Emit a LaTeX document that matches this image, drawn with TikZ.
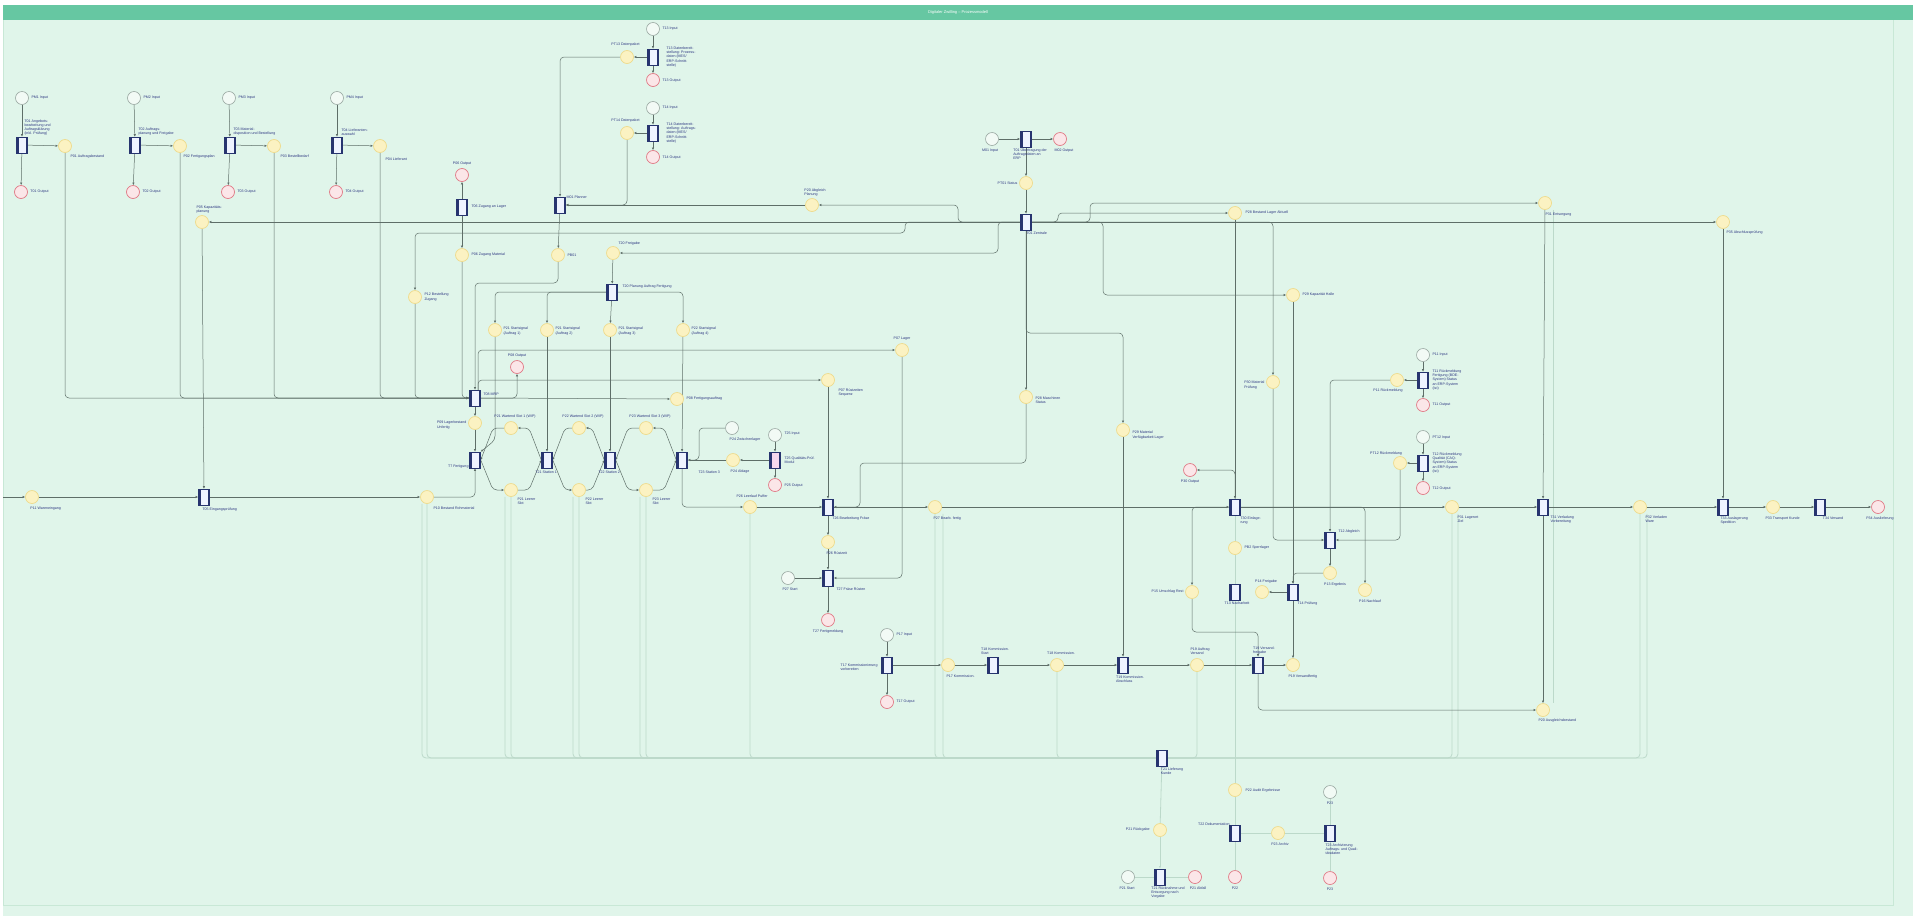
\documentclass[tikz,border=0pt]{standalone}
\usepackage{fontspec}
\setmainfont{Liberation Sans}
\usetikzlibrary{arrows.meta}
\definecolor{bgc}{HTML}{E0F5EA}
\definecolor{barc}{HTML}{66C7A2}
\definecolor{framec}{HTML}{C8E8D6}
\definecolor{wc}{HTML}{5E6E68}
\definecolor{fc}{HTML}{BCD9CA}
\definecolor{trb}{HTML}{27346F}
\definecolor{trf}{HTML}{EEF3FF}
\definecolor{plf}{HTML}{FBF2C2}
\definecolor{plb}{HTML}{EEDB8C}
\definecolor{inf}{HTML}{F2FAF5}
\definecolor{inb}{HTML}{9AA8A2}
\definecolor{ouf}{HTML}{FBE6E8}
\definecolor{oub}{HTML}{E07A86}
\definecolor{lblc}{HTML}{2B3580}
\definecolor{pinkf}{HTML}{F6D8EE}
\newcommand\lblsize{\fontsize{3.6}{4.2}\selectfont}
\pgfdeclarelayer{back}
\pgfdeclarelayer{edges}
\pgfsetlayers{back,edges,main}
\begin{document}
\begin{tikzpicture}[x=1pt,y=-1pt,
 tbox/.style={rectangle,draw=trb,fill=trf,line width=0.45pt,minimum width=11pt,minimum height=16pt,inner sep=0pt,
   path picture={\fill[trb] (path picture bounding box.north west) rectangle ([xshift=2pt]path picture bounding box.south west);
                 \fill[trb] (path picture bounding box.north east) rectangle ([xshift=-2pt]path picture bounding box.south east);}},
 tboxp/.style={tbox,fill=pinkf},
 place/.style={circle,draw=plb,fill=plf,line width=0.7pt,minimum size=13pt,inner sep=0pt},
 inpl/.style={circle,draw=inb,fill=inf,line width=0.6pt,minimum size=13pt,inner sep=0pt},
 outpl/.style={circle,draw=oub,fill=ouf,line width=0.7pt,minimum size=13pt,inner sep=0pt},
 lbl/.style={font=\lblsize,text=lblc,inner sep=0.3pt,align=left},
 wire/.style={draw=wc,line width=0.5pt,rounded corners=4pt},
 wirea/.style={wire,-{Latex[length=2.6pt,width=2.4pt]}},
 faint/.style={draw=fc,line width=0.8pt,rounded corners=4pt},
]
\useasboundingbox (0,0) rectangle (1913,916);
\begin{pgfonlayer}{back}
\fill[white] (0,0) rectangle (1913,916);
\fill[bgc] (3,5) rectangle (1913,916);
\draw[framec,line width=0.8pt] (3,20) -- (3,905) -- (1893,905) -- (1893,20);
\fill[barc] (3,5) rectangle (1913,20);
\end{pgfonlayer}
\node[font=\fontsize{4}{5}\selectfont,text=white] (title) at (958,12.5) {Digitaler Zwilling -- Prozessmodell};

% ---------- top-left modules ----------
\node[inpl] (m1i) at (22,98) {};
\node[lbl,anchor=west] (m1il) at (31,98) {PM1 Input};
\node[tbox] (m1t) at (22,145) {};
\node[lbl,anchor=south west] (m1tl) at (24,136) {T01 Angebots-\\bearbeitung und\\Auftragsklärung\\(inkl. Prüfung)};
\node[place] (m1p) at (65,146) {};
\node[lbl,anchor=north west] (m1pl) at (70,154) {P01 Auftragsbestand};
\node[outpl] (m1o) at (21,192) {};
\node[lbl,anchor=west] (m1ol) at (30,192) {T01 Output};

\node[inpl] (m2i) at (134,98) {};
\node[lbl,anchor=west] (m2il) at (143,98) {PM2 Input};
\node[tbox] (m2t) at (135,145) {};
\node[lbl,anchor=south west] (m2tl) at (138,136) {T02 Auftrags-\\planung und Freigabe};
\node[place] (m2p) at (180,146) {};
\node[lbl,anchor=north west] (m2pl) at (183,154) {P02 Fertigungsplan};
\node[outpl] (m2o) at (133,192) {};
\node[lbl,anchor=west] (m2ol) at (142,192) {T02 Output};

\node[inpl] (m3i) at (229,98) {};
\node[lbl,anchor=west] (m3il) at (238,98) {PM3 Input};
\node[tbox] (m3t) at (230,145) {};
\node[lbl,anchor=south west] (m3tl) at (233,136) {T03 Material-\\disposition und Bestellung};
\node[place] (m3p) at (274,146) {};
\node[lbl,anchor=north west] (m3pl) at (280,154) {P03 Bestellbedarf};
\node[outpl] (m3o) at (228,192) {};
\node[lbl,anchor=west] (m3ol) at (237,192) {T03 Output};

\node[inpl] (m4i) at (337,98) {};
\node[lbl,anchor=west] (m4il) at (346,98) {PM4 Input};
\node[tbox] (m4t) at (337,145) {};
\node[lbl,anchor=south west] (m4tl) at (341,136) {T04 Lieferanten-\\auswahl};
\node[place] (m4p) at (380,146) {};
\node[lbl,anchor=north west] (m4pl) at (385,157) {P04 Lieferant};
\node[outpl] (m4o) at (336,192) {};
\node[lbl,anchor=west] (m4ol) at (345,192) {T04 Output};

% ---------- left column ----------
\node[place] (pa) at (202,222) {};
\node[lbl,anchor=south west] (pal) at (196,214) {P05 Kapazitäts-\\planung};
\node[tbox] (tb) at (204,497) {};
\node[lbl,anchor=north west] (tbl) at (202,507) {T05 Eingangsprüfung};
\coordinate (lft) at (3,497);
\node[place] (pl) at (32,497) {};
\node[lbl,anchor=north west] (pll) at (30,506) {P11 Wareneingang};
\node[place] (pc) at (427,497) {};
\node[lbl,anchor=north west] (pcl) at (433,506) {P10 Bestand Rohmaterial};

\node[outpl] (oa) at (462,175) {};
\node[lbl,anchor=south] (oal) at (462,166) {P06 Output};
\node[tbox] (tc) at (462,207) {};
\node[lbl,anchor=west] (tcl) at (471,207) {T06 Zugang an Lager};
\node[place] (pd) at (462,255) {};
\node[lbl,anchor=west] (pdl) at (471,255) {P06 Zugang Material};
\node[place] (pe) at (415,297) {};
\node[lbl,anchor=west] (pel) at (424,297) {P12 Bestellung\\Zugang};
\node[tbox] (tm) at (475,398) {};
\node[lbl,anchor=south west] (tml) at (483,396) {T08 MRP};
\node[place] (pf) at (475,423) {};
\node[lbl,anchor=east] (pfl) at (467,425) {P09 Lagerbestand\\Unfertig};
\node[tbox] (tn) at (475,460) {};
\node[lbl,anchor=north east] (tnl) at (469,464) {T7 Fertigung};

\node[outpl] (ob) at (517,367) {};
\node[lbl,anchor=south] (obl) at (517,358) {P08 Output};
\node[place] (pob) at (677,399) {};
\node[lbl,anchor=west] (pobl) at (686,399) {P08 Fertigungsauftrag};
\node[place] (pg) at (902,350) {};
\node[lbl,anchor=south] (pgl) at (902,341) {P07 Lager};
\node[place] (pr) at (828,380) {};
\node[lbl,anchor=north west] (prl) at (838,388) {P07 Rüstzeiten\\Sequenz};

% ---------- top middle modules ----------
\node[tbox] (tx1) at (560,205) {};
\node[lbl,anchor=south west] (tx1l) at (566,199) {M01 Planner};
\node[inpl] (k1i) at (653,29) {};
\node[lbl,anchor=west] (k1il) at (662,29) {T13 Input};
\node[tbox] (k1t) at (653,57) {};
\node[lbl,anchor=west] (k1tl) at (666,57) {T13 Datenbereit-\\stellung: Prozess-\\daten (MES/\\ERP-Schnitt-\\stelle)};
\node[place] (k1p) at (627,57) {};
\node[lbl,anchor=south east] (k1pl) at (640,47) {PT13 Datenpaket};
\node[outpl] (k1o) at (653,80) {};
\node[lbl,anchor=west] (k1ol) at (662,81) {T13 Output};

\node[inpl] (k2i) at (653,108) {};
\node[lbl,anchor=west] (k2il) at (662,108) {T14 Input};
\node[tbox] (k2t) at (653,133) {};
\node[lbl,anchor=west] (k2tl) at (666,133) {T14 Datenbereit-\\stellung: Auftrags-\\daten (MES/\\ERP-Schnitt-\\stelle)};
\node[place] (k2p) at (627,133) {};
\node[lbl,anchor=south east] (k2pl) at (640,123) {PT14 Datenpaket};
\node[outpl] (k2o) at (653,157) {};
\node[lbl,anchor=west] (k2ol) at (662,158) {T14 Output};

\node[place] (pab) at (812,205) {};
\node[lbl,anchor=south] (pabl) at (815,197) {P20 Abgleich\\Planung};
\node[place] (pp) at (558,255) {};
\node[lbl,anchor=west] (ppl) at (567,255) {PB01};
\node[place] (pfr) at (613,253) {};
\node[lbl,anchor=south west] (pfrl) at (618,246) {T20 Freigabe};
\node[tbox] (tr) at (612,292) {};
\node[lbl,anchor=west] (trl) at (622,287) {T20 Planung Auftrag Fertigung};

% ---------- waiting places + hexagons ----------
\node[place] (pw1) at (495,330) {};
\node[lbl,anchor=west] (pw1l) at (503,331) {P21 Startsignal\\(Auftrag 1)};
\node[place] (pw2) at (547,330) {};
\node[lbl,anchor=west] (pw2l) at (555,331) {P21 Startsignal\\(Auftrag 2)};
\node[place] (pw3) at (610,330) {};
\node[lbl,anchor=west] (pw3l) at (618,331) {P21 Startsignal\\(Auftrag 3)};
\node[place] (pw4) at (683,330) {};
\node[lbl,anchor=west] (pw4l) at (691,331) {P22 Startsignal\\(Auftrag 4)};

\node[tbox] (th2) at (547,460) {};
\node[lbl,anchor=north west] (th2l) at (535,470) {T21 Station 1};
\node[tbox] (th3) at (610,460) {};
\node[lbl,anchor=north west] (th3l) at (598,470) {T22 Station 2};
\node[tbox] (th4) at (682,460) {};
\node[lbl,anchor=north west] (th4l) at (698,470) {T23 Station 3};

\node[place] (ht1) at (511,428) {};
\node[lbl,anchor=south] (ht1l) at (515,419) {P21 Wartend Slot 1 (WIP)};
\node[place] (ht2) at (579,428) {};
\node[lbl,anchor=south] (ht2l) at (583,419) {P22 Wartend Slot 2 (WIP)};
\node[place] (ht3) at (646,428) {};
\node[lbl,anchor=south] (ht3l) at (650,419) {P23 Wartend Slot 3 (WIP)};
\node[place] (hb1) at (511,490) {};
\node[lbl,anchor=north west] (hb1l) at (517,497) {P21 Leerer\\Slot};
\node[place] (hb2) at (579,490) {};
\node[lbl,anchor=north west] (hb2l) at (585,497) {P22 Leerer\\Slot};
\node[place] (hb3) at (646,490) {};
\node[lbl,anchor=north west] (hb3l) at (652,497) {P23 Leerer\\Slot};

\node[inpl] (ic) at (732,428) {};
\node[lbl,anchor=north] (icl) at (745,437) {P24 Zwischenlager};
\node[place] (px) at (733,460) {};
\node[lbl,anchor=north] (pxl) at (740,469) {P24 Ablage};
\node[inpl] (i5) at (775,435) {};
\node[lbl,anchor=west] (i5l) at (784,434) {T25 Input};
\node[tboxp] (t5) at (775,460) {};
\node[lbl,anchor=west] (t5l) at (784,460) {T25 Qualitäts-Prüf.\\Modul};
\node[outpl] (o5) at (775,485) {};
\node[lbl,anchor=west] (o5l) at (784,486) {P25 Output};

\node[place] (py) at (750,507) {};
\node[lbl,anchor=south] (pyl) at (752,498) {P26 Leerlauf Puffer};
\node[tbox] (ts) at (828,507) {};
\node[lbl,anchor=north west] (tsl) at (832,516) {T26 Bearbeitung Fräse};
\node[place] (pz) at (935,507) {};
\node[lbl,anchor=north west] (pzl) at (933,516) {P27 Bearb. fertig};
\node[place] (pv) at (828,542) {};
\node[lbl,anchor=north west] (pvl) at (826,551) {P26 Rüstzeit};
\node[tbox] (tv) at (828,578) {};
\node[lbl,anchor=north west] (tvl) at (836,587) {T27 Fräse Rüsten};
\node[inpl] (iv) at (788,578) {};
\node[lbl,anchor=north] (ivl) at (790,587) {P27 Start};
\node[outpl] (ov) at (828,620) {};
\node[lbl,anchor=north] (ovl) at (828,629) {T27 Fertigmeldung};

% ---------- central ----------
\node[inpl] (it) at (992,139) {};
\node[lbl,anchor=north] (itl) at (990,148) {M01 Input};
\node[tbox] (tt) at (1026,139) {};
\node[lbl,anchor=north] (ttl) at (1030,148) {T01 Übertragung der\\Auftragsdaten an\\ERP};
\node[outpl] (ot) at (1060,139) {};
\node[lbl,anchor=north west] (otl) at (1054,148) {M02 Output};
\node[place] (pt) at (1026,183) {};
\node[lbl,anchor=east] (ptl) at (1018,183) {PT01 Status};
\node[tbox] (tq) at (1026,222) {};
\node[lbl,anchor=north west] (tql) at (1026,231) {T01 Zentrale};
\node[place] (pst) at (1026,397) {};
\node[lbl,anchor=west] (pstl) at (1035,400) {P28 Maschinen\\Status};
\node[place] (pq) at (1123,430) {};
\node[lbl,anchor=west] (pql) at (1132,435) {P29 Material\\Verfügbarkeit Lager};

\node[place] (pu) at (1235,213) {};
\node[lbl,anchor=west] (pul) at (1245,213) {P28 Bestand Lager Aktuell};
\node[place] (pent) at (1545,203) {};
\node[lbl,anchor=north west] (pentl) at (1545,212) {P31 Entsorgung};
\node[place] (pkap) at (1293,295) {};
\node[lbl,anchor=west] (pkapl) at (1302,295) {P29 Kapazität Halle};
\node[place] (pend) at (1723,222) {};
\node[lbl,anchor=north west] (pendl) at (1726,230) {P35 Abschlussprüfung};
\node[place] (pmat) at (1273,382) {};
\node[lbl,anchor=east] (pmatl) at (1265,385) {P30 Material\\Prüfung};

\node[inpl] (r1i) at (1423,355) {};
\node[lbl,anchor=west] (r1il) at (1432,355) {P11 Input};
\node[tbox] (r1t) at (1423,380) {};
\node[lbl,anchor=west] (r1tl) at (1432,380) {T11 Rückmeldung\\Fertigung (BDE-\\System) Status\\an ERP-System\\(Ist)};
\node[outpl] (r1o) at (1423,405) {};
\node[lbl,anchor=west] (r1ol) at (1432,405) {T11 Output};
\node[place] (r1p) at (1397,380) {};
\node[lbl,anchor=north] (r1pl) at (1388,388) {P11 Rückmeldung};

\node[inpl] (r2i) at (1423,437) {};
\node[lbl,anchor=west] (r2il) at (1432,438) {PT12 Input};
\node[tbox] (r2t) at (1423,463) {};
\node[lbl,anchor=west] (r2tl) at (1432,463) {T12 Rückmeldung\\Qualität (CAQ-\\System) Status\\an ERP-System\\(Ist)};
\node[outpl] (r2o) at (1423,488) {};
\node[lbl,anchor=west] (r2ol) at (1432,489) {T12 Output};
\node[place] (r2p) at (1400,463) {};
\node[lbl,anchor=south] (r2pl) at (1386,456) {PT12 Rückmeldung};

\node[tbox] (tab) at (1330,540) {};
\node[lbl,anchor=south west] (tabl) at (1338,534) {T12 Abgleich};
\node[place] (perg) at (1330,573) {};
\node[lbl,anchor=north] (pergl) at (1335,582) {P13 Ergebnis};
\node[tbox] (tpr) at (1293,592) {};
\node[lbl,anchor=north west] (tprl) at (1297,601) {T14 Prüfung};
\node[place] (pres) at (1262,592) {};
\node[lbl,anchor=south] (presl) at (1266,584) {P14 Freigabe};
\node[tbox] (tnach) at (1235,592) {};
\node[lbl,anchor=north] (tnachl) at (1237,601) {T13 Nacharbeit};
\node[place] (psp) at (1235,548) {};
\node[lbl,anchor=west] (pspl) at (1244,548) {PB2 Sperrlager};

\node[tbox] (tu) at (1235,507) {};
\node[lbl,anchor=north west] (tul) at (1240,516) {T30 Einlage-\\rung};
\node[outpl] (ou) at (1190,470) {};
\node[lbl,anchor=north] (oul) at (1190,479) {P30 Output};
\node[place] (pum) at (1192,592) {};
\node[lbl,anchor=east] (puml) at (1184,592) {P15 Umschlag Rest};
\node[place] (pnl) at (1365,590) {};
\node[lbl,anchor=north] (pnll) at (1370,599) {P16 Nachlauf};

% ---------- right main row ----------
\node[place] (pwz) at (1452,507) {};
\node[lbl,anchor=north west] (pwzl) at (1457,515) {P31 Lagerort\\Ziel};
\node[tbox] (tvl2) at (1543,507) {};
\node[lbl,anchor=north west] (tvl2l) at (1550,515) {T31 Verladung\\Vorbereitung};
\node[place] (pvw) at (1640,507) {};
\node[lbl,anchor=north west] (pvwl) at (1645,515) {P32 Verladen\\Ware};
\node[tbox] (tab2) at (1723,507) {};
\node[lbl,anchor=north west] (tab2l) at (1720,516) {T33 Auslagerung\\Spedition};
\node[place] (ptk) at (1773,507) {};
\node[lbl,anchor=north west] (ptkl) at (1765,516) {P33 Transport Kunde};
\node[tbox] (tvs) at (1820,507) {};
\node[lbl,anchor=north] (tvsl) at (1833,516) {T34 Versand};
\node[outpl] (oaus) at (1878,507) {};
\node[lbl,anchor=north] (oausl) at (1880,516) {P34 Auslieferung};

% ---------- lower row ----------
\node[inpl] (il) at (887,635) {};
\node[lbl,anchor=west] (ill) at (896,635) {P17 Input};
\node[tbox] (tl) at (887,665) {};
\node[lbl,anchor=east] (tll) at (878,667) {T17 Kommissionierung\\vorbereiten};
\node[outpl] (ol) at (887,702) {};
\node[lbl,anchor=west] (oll) at (896,702) {T17 Output};
\node[place] (pl1) at (948,665) {};
\node[lbl,anchor=north west] (pl1l) at (946,674) {P17 Kommission.};
\node[tbox] (tl1) at (993,665) {};
\node[lbl,anchor=south] (tl1l) at (995,655) {T18 Kommission.\\Start};
\node[place] (pl2) at (1057,665) {};
\node[lbl,anchor=south] (pl2l) at (1061,655) {T18 Kommission.};
\node[tbox] (tl2) at (1123,665) {};
\node[lbl,anchor=north] (tl2l) at (1130,675) {T19 Kommission.\\Abschluss};
\node[place] (pl3) at (1197,665) {};
\node[lbl,anchor=south] (pl3l) at (1200,655) {P19 Auftrag\\Versand};
\node[tbox] (tl3) at (1258,665) {};
\node[lbl,anchor=south] (tl3l) at (1264,655) {T19 Versand-\\freigabe};
\node[place] (pl4) at (1293,665) {};
\node[lbl,anchor=north west] (pl4l) at (1288,674) {P19 Versandfertig};
\node[place] (pau) at (1543,710) {};
\node[lbl,anchor=north west] (paul) at (1538,718) {P20 Ausgleichsbestand};

% ---------- bottom ----------
\node[tbox] (tbus) at (1162,758) {};
\node[lbl,anchor=north] (tbusl) at (1172,767) {T21 Lieferung\\Kunde};
\node[place] (pbr) at (1160,830) {};
\node[lbl,anchor=east] (pbrl) at (1150,830) {P21 Rückgabe};
\node[tbox] (tbr) at (1160,877) {};
\node[lbl,anchor=north] (tbrl) at (1168,886) {T21 Rücknahme und\\Entsorgung nach\\Vorgabe};
\node[inpl] (ibr) at (1128,877) {};
\node[lbl,anchor=north] (ibrl) at (1127,886) {P21 Start};
\node[outpl] (obr) at (1195,877) {};
\node[lbl,anchor=north] (obrl) at (1198,886) {P21 Abfall};

\node[place] (paud) at (1235,790) {};
\node[lbl,anchor=west] (paudl) at (1245,791) {P22 Audit Ergebnisse};
\node[tbox] (tdok) at (1235,833) {};
\node[lbl,anchor=south east] (tdokl) at (1230,826) {T22 Dokumentation};
\node[outpl] (odok) at (1235,877) {};
\node[lbl,anchor=north] (odokl) at (1235,886) {P22};
\node[place] (parc) at (1278,833) {};
\node[lbl,anchor=north] (parcl) at (1280,842) {P23 Archiv};
\node[tbox] (tarc) at (1330,833) {};
\node[lbl,anchor=north west] (tarcl) at (1325,843) {T23 Archivierung\\Auftrags- und Quali-\\tätsdaten};
\node[inpl] (iarc) at (1330,792) {};
\node[lbl,anchor=north] (iarcl) at (1330,801) {P23};
\node[outpl] (oarc) at (1330,878) {};
\node[lbl,anchor=north] (oarcl) at (1330,887) {P23};

% ================= edges =================
\begin{pgfonlayer}{edges}
% faint bus
\foreach \s in {pc,hb1,hb2,hb3,py,pz,pl2} {\draw[faint] (\s) |- (tbus.west);}
\draw[faint] ([xshift=-5pt]pc.south) |- (tbus.west);
\draw[faint] ([xshift=-6pt]hb1.south) |- (tbus.west);
\draw[faint] ([xshift=-6pt]hb2.south) |- (tbus.west);
\draw[faint] ([xshift=-6pt]hb3.south) |- (tbus.west);
\draw[faint] ([xshift=8pt]pz.south) |- (tbus.west);
\foreach \s in {pl3,pwz,pvw} {\draw[faint] (\s) |- (tbus.east);}
\draw[faint] ([xshift=6pt]pwz.south) |- (tbus.east);
\draw[faint] ([xshift=7pt]pvw.south) |- (tbus.east);
\draw[faint] ([xshift=8pt]pent.south) -- ([xshift=8pt]pent.south |- pau.north);
\draw[faint] (tbus) -- (pbr);
\draw[faint,-{Latex[length=2.6pt]}] (pbr) -- (tbr);
\draw[faint] (ibr) -- (tbr);
\draw[faint] (tbr) -- (obr);
\draw[faint] (tu) -- (psp);
\draw[faint] (psp) -- (tnach);
\draw[faint] (tnach) -- (paud);
\draw[faint] (paud) -- (tdok);
\draw[faint] (tdok) -- (odok);
\draw[faint] (tdok) -- (parc);
\draw[faint] (parc) -- (tarc);
\draw[faint] (iarc) -- (tarc);
\draw[faint] (tarc) -- (oarc);

% top-left modules
\foreach \m in {m1,m2,m3,m4} {
  \draw[wirea] (\m i) -- (\m t);
  \draw[wirea] (\m t) -- (\m p);
  \draw[wirea] (\m t) -- (\m o);
  \draw[wirea] (\m p) |- (tm.west);
}
\draw[wirea] (pe) |- (tm.west);
\draw[wirea] (pd) |- (tm.west);
\draw[wirea] (tc) -- (oa);
\draw[wirea] (tc) -- (pd);
\draw[wirea] (tm) -- (pf);
\draw[wirea] (pf) -- (tn);
\draw[wirea] (pa) -- (tb);
\draw[wirea] (lft) -- (pl);
\draw[wirea] (pl) -- (tb);
\draw[wirea] (tb) -- (pc);
\draw[wirea] (pc) -| (tn.south);
\draw[wirea] (tm.east) -- (pob);
\draw[wirea] (tm.east) -| (ob);
\draw[wirea] ([xshift=3pt]tm.north) |- (pg);
\draw[wirea] ([xshift=3pt]tm.north) |- (pr);

% middle top modules
\draw[wirea] (k1i) -- (k1t);
\draw[wirea] (k1t) -- (k1o);
\draw[wirea] (k1t) -- (k1p);
\draw[wirea] (k1p) -| (tx1.north);
\draw[wirea] (k2i) -- (k2t);
\draw[wirea] (k2t) -- (k2o);
\draw[wirea] (k2t) -- (k2p);
\draw[wirea] (k2p) |- (tx1.east);
\draw[wirea] (pab) -- (tx1.east);
\draw[wirea] (tx1) -- (pp);
\draw[wirea] (pp) -- (558,283) -| (tm.north);
\draw[wirea] (pfr) -- (tr);
\draw[wirea] (tr.west) -| (pw1);
\draw[wirea] (tr.west) -| (pw2);
\draw[wirea] (tr) -- (pw3);
\draw[wirea] (tr.east) -| (pw4);
\draw[wirea] (pw2) -- (th2);
\draw[wirea] (pw3) -- (th3);
\draw[wirea] (pw4) -- (th4);
\draw[wirea] (pw1) -- (495,440) -- (tn.north east);

% hexagons
\draw[wirea] (th2.west) -- (529,428) -- (ht1);
\draw[wirea] (ht1) -- (493,428) -- (tn.east);
\draw[wirea] (tn.east) -- (493,490) -- (hb1);
\draw[wirea] (hb1) -- (529,490) -- (th2.west);
\draw[wirea] (th3.west) -- (592,428) -- (ht2);
\draw[wirea] (ht2) -- (565,428) -- (th2.east);
\draw[wirea] (th2.east) -- (565,490) -- (hb2);
\draw[wirea] (hb2) -- (592,490) -- (th3.west);
\draw[wirea] (th4.west) -- (664,428) -- (ht3);
\draw[wirea] (ht3) -- (628,428) -- (th3.east);
\draw[wirea] (th3.east) -- (628,490) -- (hb3);
\draw[wirea] (hb3) -- (664,490) -- (th4.west);

% right of station 3
\draw[wire] (ic) -| (699,460) -- (th4.east);
\draw[wirea] (i5) -- (t5);
\draw[wirea] (t5) -- (o5);
\draw[wirea] (t5) -- (px);
\draw[wirea] (px) -- (th4.east);
\draw[wirea] (th4.south) |- (py);
\draw[wirea] (py) -- (ts);
\draw[wirea] (pr) -- (ts);
\draw[wirea] (ts) -- (pz);
\draw[wirea] (ts) -- (pv);
\draw[wirea] (pv) -- (tv);
\draw[wirea] (iv) -- (tv);
\draw[wirea] (tv) -- (ov);
\draw[wirea] (pg) |- (tv.east);
\draw[wirea] (pz) -- (tu);

% central transition
\draw[wirea] (it) -- (tt);
\draw[wirea] (tt) -- (ot);
\draw[wirea] (tt) -- (pt);
\draw[wirea] (pt) -- (tq);
\draw[wirea] (tq.west) -- (pa);
\draw[wirea] (tq.west) -- (958,222) |- (pab);
\draw[wirea] (tq.west) -- (998,222) |- (pfr);
\draw[wirea] (tq.west) -- (905,222) |- (415,233) -- (pe);
\draw[wirea] (tq.east) -- (1058,222) |- (pu);
\draw[wirea] (tq.east) -- (1090,222) |- (pent);
\draw[wirea] (tq.east) -- (1103,222) |- (pkap);
\draw[wirea] (tq.east) -- (1273,222) -- (pmat);
\draw[wirea] (tq.east) -- (pend);
\draw[wirea] (tq) -- (pst);
\draw[wirea] (tq.south) -- (1026,333) -| (pq);
\draw[wirea] (pst) -- (1026,463) -- (860,463) -- (860,507) -- (ts.east);
\draw[wirea] (pq) -- (tl2);
\draw[wirea] (pu) -- (tu);
\draw[wirea] (pent) -- (tvl2);
\draw[wirea] (pend) -- (tab2);
\draw[wirea] (pkap) -- (tpr);
\draw[wirea] (pmat) |- (tab.west);

% right modules
\draw[wirea] (r1i) -- (r1t);
\draw[wirea] (r1t) -- (r1o);
\draw[wirea] (r1t) -- (r1p);
\draw[wirea] (r1p) -| (tab.north);
\draw[wirea] (r2i) -- (r2t);
\draw[wirea] (r2t) -- (r2o);
\draw[wirea] (r2t) -- (r2p);
\draw[wirea] (r2p) |- (tab.east);
\draw[wirea] (tab) -- (perg);
\draw[wirea] (perg) -| (tpr.north);
\draw[wirea] (tpr) -- (pres);
\draw[wirea] (tpr) -- (pl4);

% TU
\draw[wirea] (tu.north) |- (ou);
\draw[wirea] (tu) -| (pum);
\draw[wirea] (tu) -| (pnl);
\draw[wirea] (tu) -- (pwz);
\draw[wirea] (pum) -- (1192,632) -| (tl3.north);
\draw[wirea] (pwz) -- (tvl2);
\draw[wirea] (tvl2) -- (pvw);
\draw[wirea] (pvw) -- (tab2);
\draw[wirea] (tab2) -- (ptk);
\draw[wirea] (ptk) -- (tvs);
\draw[wirea] (tvs) -- (oaus);

% lower row
\draw[wirea] (il) -- (tl);
\draw[wirea] (tl) -- (ol);
\draw[wirea] (tl) -- (pl1);
\draw[wirea] (pl1) -- (tl1);
\draw[wirea] (tl1) -- (pl2);
\draw[wirea] (pl2) -- (tl2);
\draw[wirea] (tl2) -- (pl3);
\draw[wirea] (pl3) -- (tl3);
\draw[wirea] (tl3) -- (pl4);
\draw[wirea] (tl3.south) |- (pau);
\draw[wirea] (tvl2) -- (pau);
\end{pgfonlayer}
\end{tikzpicture}
\end{document}
